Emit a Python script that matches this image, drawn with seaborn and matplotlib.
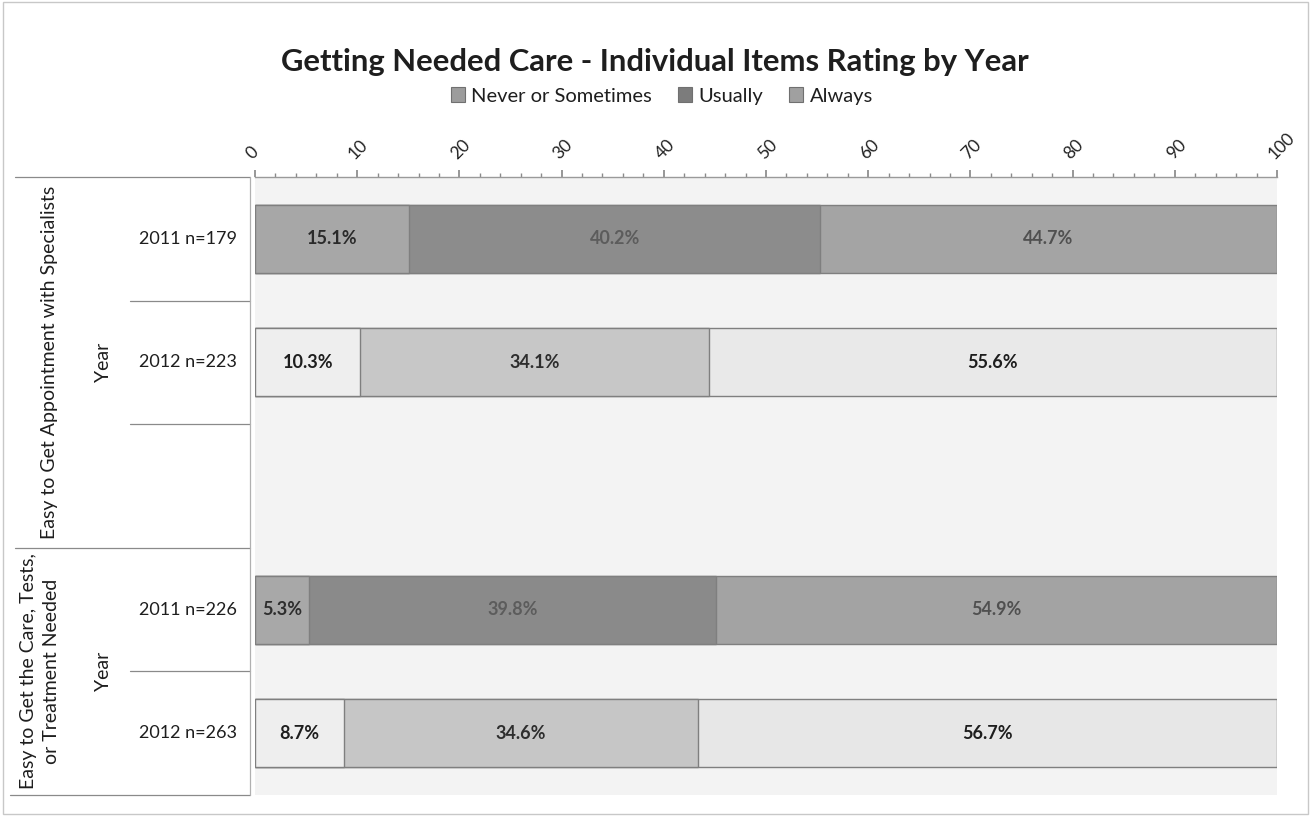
import numpy as np
import pandas as pd
import matplotlib
matplotlib.use("Agg")
import matplotlib.pyplot as plt
from matplotlib.lines import Line2D
from matplotlib.patches import Patch, Rectangle
from matplotlib.transforms import blended_transform_factory
import seaborn as sns

# ---------------- data ----------------
rows = ["2011 n=179", "2012 n=223", " ", "2011 n=226", "2012 n=263"]
data_rows = ["2011 n=179", "2012 n=223", "2011 n=226", "2012 n=263"]
never = [15.1, 10.3, 5.3, 8.7]
usually = [40.2, 34.1, 39.8, 34.6]
always = [44.7, 55.6, 54.9, 56.7]
series = ["Never or Sometimes", "Usually", "Always"]
groups = ["Easy to Get Appointment with Specialists",
          "Easy to Get the Care, Tests,\nor Treatment Needed"]
title = "Getting Needed Care - Individual Items Rating by Year"
xticks = [0, 10, 20, 30, 40, 50, 60, 70, 80, 90, 100]

# per-row grey shades (scanned look)
col_never = ["#a7a7a7", "#eeeeee", "#a8a8a8", "#eeeeee"]
col_usually = ["#8c8c8c", "#c7c7c7", "#8a8a8a", "#c6c6c6"]
col_always = ["#a4a4a4", "#e9e9e9", "#a3a3a3", "#e7e7e7"]
txt_never = ["#2a2a2a", "#1e1e1e", "#2e2e2e", "#1e1e1e"]
txt_usually = ["#5c5c5c", "#2e2e2e", "#5c5c5c", "#2e2e2e"]
txt_always = ["#505050", "#1e1e1e", "#505050", "#1e1e1e"]
legend_cols = ["#9c9c9c", "#7c7c7c", "#a0a0a0"]

df = pd.DataFrame({"row": data_rows, "never": never,
                   "usually": usually, "always": always})
df["c1"] = df["never"]
df["c2"] = df["never"] + df["usually"]
df["c3"] = df["c2"] + df["always"]

sns.set_theme(style="white")
plt.rcParams["font.family"] = ["Lato", "DejaVu Sans"]

W, H = 1311, 816
fig = plt.figure(figsize=(W / 100, H / 100), dpi=100)
ax = fig.add_axes([255 / W, 1 - 795 / H, (1277 - 255) / W, (795 - 177) / H])
ax.set_facecolor("#f3f3f3")

bw = 0.55
for cum, cols in [("c3", col_always), ("c2", col_usually), ("c1", col_never)]:
    sns.barplot(data=df, x=cum, y="row", hue="row", order=rows,
                hue_order=data_rows, palette=cols, orient="h",
                width=bw, dodge=False, legend=False, ax=ax,
                edgecolor="#7f7f7f", linewidth=1.0, saturation=1)

# data labels
ypos = {r: i for i, r in enumerate(rows)}
for i, r in enumerate(data_rows):
    y = ypos[r]
    lefts = [0, never[i], never[i] + usually[i]]
    vals = [never[i], usually[i], always[i]]
    tcols = [txt_never[i], txt_usually[i], txt_always[i]]
    for l, v, tc in zip(lefts, vals, tcols):
        ax.text(l + v / 2, y, f"{v:.1f}%", ha="center", va="center",
                fontsize=13, fontweight="bold", color=tc)

ax.set_xlim(0, 100)
ax.set_ylim(len(rows) - 0.5, -0.5)
ax.set_xlabel("")
ax.set_ylabel("")
ax.set_yticks([])
ax.xaxis.tick_top()
ax.set_xticks(xticks)
ax.set_xticklabels([str(t) for t in xticks], rotation=45, ha="left",
                   va="bottom", fontsize=12.5, color="#222222",
                   rotation_mode="anchor")
ax.set_xticks(np.arange(0, 101, 2), minor=True)
ax.tick_params(axis="x", which="major", top=True, bottom=False,
               direction="out", length=5, color="#8a8a8a", pad=6)
ax.tick_params(axis="x", which="minor", top=True, bottom=False,
               direction="out", length=3, color="#8a8a8a")
for s in ["left", "right", "bottom"]:
    ax.spines[s].set_visible(False)
ax.spines["top"].set_color("#9a9a9a")
ax.spines["top"].set_linewidth(1.0)

# ---------- category table on the left ----------
tr = blended_transform_factory(fig.transFigure, ax.transData)
lc = "#8a8a8a"
for yb, x0 in [(-0.5, 15), (0.5, 130), (1.5, 130), (2.5, 15), (3.5, 130), (4.5, 10)]:
    fig.add_artist(Line2D([x0 / W, 250 / W], [yb, yb], transform=tr,
                          color=lc, lw=0.9))
fig.add_artist(Line2D([250 / W, 250 / W], [-0.5, 4.5], transform=tr,
                      color="#b0b0b0", lw=0.9))
for r in data_rows:
    fig.text(237 / W, ypos[r], r, transform=tr, ha="right", va="center",
             fontsize=13, color="#1e1e1e")

fig.text(50 / W, 1.0, groups[0], transform=tr, rotation=90, ha="center",
         va="center", fontsize=14, color="#1e1e1e")
fig.text(104 / W, 1.0, "Year", transform=tr, rotation=90, ha="center",
         va="center", fontsize=14, color="#1e1e1e")
fig.text(40 / W, 3.5, groups[1], transform=tr, rotation=90, ha="center",
         va="center", fontsize=14, color="#1e1e1e", linespacing=1.4)
fig.text(104 / W, 3.5, "Year", transform=tr, rotation=90, ha="center",
         va="center", fontsize=14, color="#1e1e1e")

# title & legend
fig.text(655 / W, 1 - 62 / H, title, ha="center", va="center",
         fontsize=22.3, fontweight="bold", color="#1e1e1e")
handles = [Patch(facecolor=c, edgecolor="#707070", linewidth=0.8) for c in legend_cols]
fig.legend(handles, series, loc="center", bbox_to_anchor=(662 / W, 1 - 96 / H),
           ncol=3, frameon=False, fontsize=14.5, handlelength=0.7,
           handleheight=0.7, handletextpad=0.3, columnspacing=1.3,
           labelcolor="#1e1e1e")

fig.add_artist(Rectangle((0.002, 0.002), 0.996, 0.996, transform=fig.transFigure,
                         fill=False, edgecolor="#c8c8c8", lw=1.0))

fig.savefig("out.png", dpi=100, facecolor="white")
